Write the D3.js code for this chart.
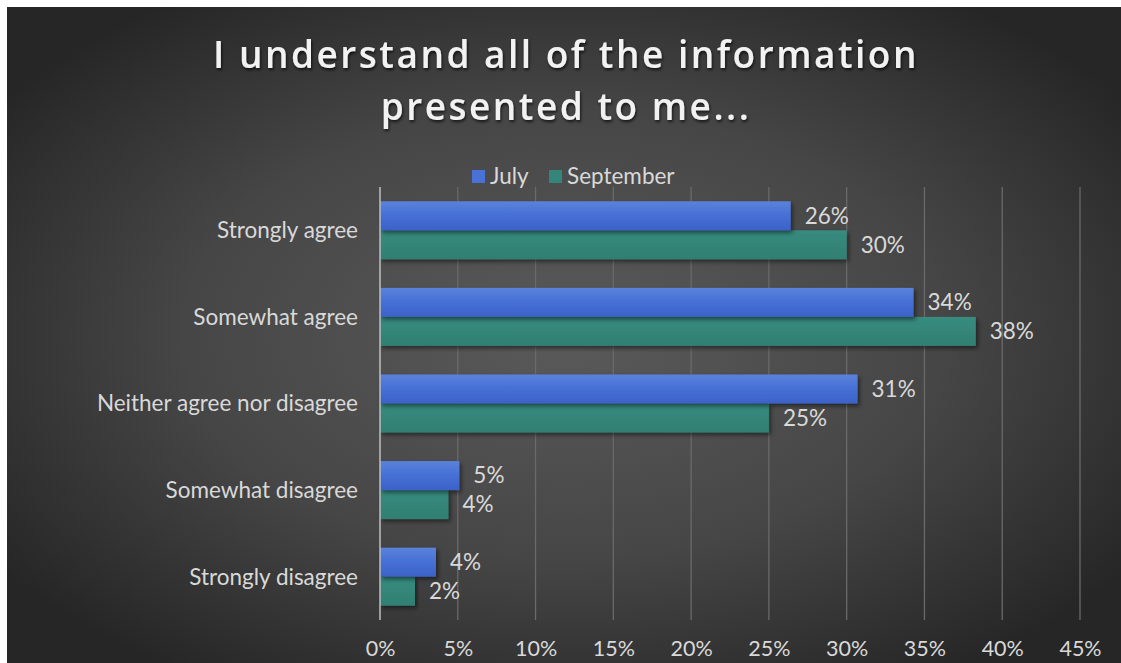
<!DOCTYPE html>
<html>
<head>
<meta charset="utf-8">
<script src="https://cdn.jsdelivr.net/npm/d3@7"></script>
<style>
  html, body { margin: 0; padding: 0; background: #ffffff; overflow: hidden; }
  svg { display: block; }
</style>
</head>
<body>
<svg id="chart" width="1121" height="663"></svg>
<script>
// Survey responses, share of respondents per answer
const categories = ["Strongly agree", "Somewhat agree", "Neither agree nor disagree", "Somewhat disagree", "Strongly disagree"];
const seriesNames = ["July", "September"];
const julyValues = [0.264, 0.343, 0.307, 0.051, 0.036];
const septemberValues = [0.300, 0.383, 0.250, 0.044, 0.0225];
const tickValues = [0, 0.05, 0.10, 0.15, 0.20, 0.25, 0.30, 0.35, 0.40, 0.45];
const titleLines = ["I understand all of the information", "presented to me..."];

const W = 1121, H = 663;
const svg = d3.select("#chart");
const defs = svg.append("defs");

// Panel background: soft radial glow on dark grey
const bg = defs.append("radialGradient").attr("id", "bgGrad")
  .attr("cx", "50%").attr("cy", "50%").attr("r", "62%");
bg.append("stop").attr("offset", "0%").attr("stop-color", "#5a5a5a");
bg.append("stop").attr("offset", "55%").attr("stop-color", "#464646");
bg.append("stop").attr("offset", "100%").attr("stop-color", "#262626");

const julyGrad = defs.append("linearGradient").attr("id", "julyGrad")
  .attr("x1", 0).attr("y1", 0).attr("x2", 0).attr("y2", 1);
julyGrad.append("stop").attr("offset", "0%").attr("stop-color", "#5b82db");
julyGrad.append("stop").attr("offset", "45%").attr("stop-color", "#4771d6");
julyGrad.append("stop").attr("offset", "100%").attr("stop-color", "#3b62c8");

const sepGrad = defs.append("linearGradient").attr("id", "sepGrad")
  .attr("x1", 0).attr("y1", 0).attr("x2", 0).attr("y2", 1);
sepGrad.append("stop").attr("offset", "0%").attr("stop-color", "#378c7e");
sepGrad.append("stop").attr("offset", "100%").attr("stop-color", "#317f72");

const shadow = defs.append("filter").attr("id", "barShadow")
  .attr("x", "-5%").attr("y", "-20%").attr("width", "115%").attr("height", "160%");
shadow.append("feDropShadow").attr("dx", 2).attr("dy", 2.5).attr("stdDeviation", 2)
  .attr("flood-color", "#000").attr("flood-opacity", 0.5);

const titleShadow = defs.append("filter").attr("id", "titleShadow")
  .attr("x", "-5%").attr("y", "-20%").attr("width", "110%").attr("height", "160%");
titleShadow.append("feDropShadow").attr("dx", 1).attr("dy", 2).attr("stdDeviation", 1.5)
  .attr("flood-color", "#000").attr("flood-opacity", 0.7);

svg.append("rect").attr("x", 7).attr("y", 7).attr("width", W - 7).attr("height", H - 7)
  .attr("fill", "url(#bgGrad)");

const margin = { left: 380, right: 41, top: 187, bottom: 43 };
const x = d3.scaleLinear().domain([0, 0.45]).range([margin.left, W - margin.right]);
const y = d3.scaleBand().domain(categories).range([margin.top, H - margin.bottom])
  .paddingInner(0.33).paddingOuter(0.165);
const ySub = d3.scaleBand().domain(seriesNames).range([0, y.bandwidth()]);

const labelFont = "Lato, 'Open Sans', sans-serif";
const labelSize = 22.5;
const textColor = "#d9d9d9";

// Gridlines
svg.append("g").selectAll("line").data(tickValues.slice(1)).join("line")
  .attr("x1", d => x(d)).attr("x2", d => x(d))
  .attr("y1", margin.top).attr("y2", H - margin.bottom)
  .attr("stroke", "#6a6a6a").attr("stroke-width", 1.3);

// Value axis at the bottom (labels only)
const xAxis = d3.axisBottom(x).tickValues(tickValues).tickFormat(d3.format(".0%"))
  .tickSize(0).tickPadding(0);
const xg = svg.append("g").attr("transform", `translate(0, ${H - 7})`).call(xAxis);
xg.select(".domain").remove();
xg.selectAll("text").attr("fill", textColor).attr("font-family", labelFont)
  .attr("font-size", 21.5).attr("dy", null).attr("y", 0);

// Category axis
const yAxis = d3.axisLeft(y).tickSize(0).tickPadding(22);
const yg = svg.append("g").attr("transform", `translate(${margin.left}, 0)`).call(yAxis);
yg.select(".domain").remove();
yg.selectAll("text").attr("fill", textColor).attr("font-family", labelFont)
  .attr("font-size", labelSize).attr("dy", "0.35em");

// Bars
const rows = categories.map((c, i) => ({
  category: c,
  values: [
    { series: "July", value: julyValues[i], fill: "url(#julyGrad)" },
    { series: "September", value: septemberValues[i], fill: "url(#sepGrad)" }
  ]
}));

const groups = svg.append("g").selectAll("g").data(rows).join("g")
  .attr("transform", d => `translate(0, ${y(d.category)})`);

groups.selectAll("rect").data(d => d.values.slice().reverse()).join("rect")
  .attr("x", x(0))
  .attr("y", d => ySub(d.series))
  .attr("width", d => x(d.value) - x(0))
  .attr("height", ySub.bandwidth())
  .attr("fill", d => d.fill)
  .attr("filter", "url(#barShadow)");

groups.selectAll("text").data(d => d.values).join("text")
  .attr("x", d => x(d.value) + 14)
  .attr("y", d => ySub(d.series) + ySub.bandwidth() / 2)
  .attr("dy", "0.35em")
  .attr("fill", textColor).attr("font-family", labelFont).attr("font-size", labelSize)
  .text(d => d3.format(".0%")(d.value));

// Category axis line
svg.append("line").attr("x1", x(0)).attr("x2", x(0))
  .attr("y1", margin.top).attr("y2", H - margin.bottom)
  .attr("stroke", "#bfbfbf").attr("stroke-width", 1.5);

// Legend
const legendColors = ["#4a72d6", "#34867a"];
const legendX = [472, 549];
const legend = svg.append("g").selectAll("g").data(seriesNames).join("g")
  .attr("transform", (d, i) => `translate(${legendX[i]}, 170)`);
legend.append("rect").attr("width", 13).attr("height", 13).attr("fill", (d, i) => legendColors[i]);
legend.append("text").attr("x", 18).attr("y", 6.5).attr("dy", "0.35em")
  .attr("fill", textColor).attr("font-family", labelFont).attr("font-size", labelSize)
  .text(d => d);

// Title
svg.append("g").attr("filter", "url(#titleShadow)").selectAll("text").data(titleLines).join("text")
  .attr("x", 566).attr("y", (d, i) => 68 + i * 52)
  .attr("text-anchor", "middle")
  .attr("fill", "#f2f2f2")
  .attr("font-family", "'Open Sans', sans-serif").attr("font-weight", 600)
  .attr("font-size", 37).attr("letter-spacing", 2.5)
  .text(d => d);
</script>
</body>
</html>
